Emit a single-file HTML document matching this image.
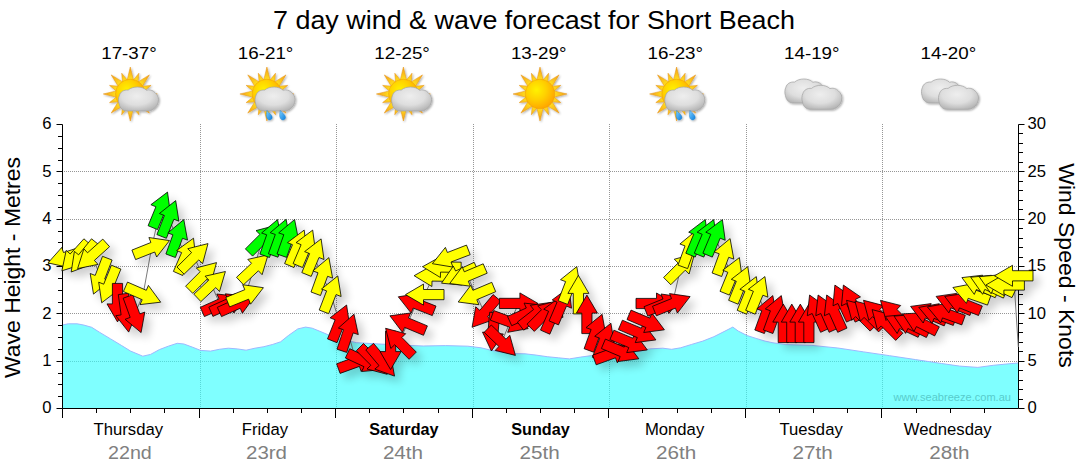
<!DOCTYPE html><html><head><meta charset="utf-8"><title>7 day wind &amp; wave forecast</title>
<style>html,body{margin:0;padding:0;background:#fff}svg{display:block}text{font-family:"Liberation Sans",sans-serif}</style></head><body>
<svg width="1080" height="475" viewBox="0 0 1080 475">
<defs>
<filter id="sh" x="-5%" y="-20%" width="110%" height="150%"><feGaussianBlur in="SourceAlpha" stdDeviation="4.5"/><feOffset dx="6" dy="6" result="b"/><feComponentTransfer><feFuncA type="linear" slope="0.19"/></feComponentTransfer><feMerge><feMergeNode/><feMergeNode in="SourceGraphic"/></feMerge></filter>
<filter id="ish" x="-20%" y="-20%" width="150%" height="150%"><feGaussianBlur in="SourceAlpha" stdDeviation="0.9"/><feOffset dx="0.6" dy="0.8"/><feComponentTransfer><feFuncA type="linear" slope="0.35"/></feComponentTransfer><feMerge><feMergeNode/><feMergeNode in="SourceGraphic"/></feMerge></filter>
<radialGradient id="sunG" cx="0.38" cy="0.36" r="0.75"><stop offset="0" stop-color="#fff200"/><stop offset="0.45" stop-color="#ffd000"/><stop offset="1" stop-color="#ff9a00"/></radialGradient>
<radialGradient id="rayG" gradientUnits="userSpaceOnUse" cx="0" cy="0" r="27"><stop offset="0.55" stop-color="#ffdc1e"/><stop offset="1" stop-color="#f39c1a"/></radialGradient>
<radialGradient id="cloudG" cx="0.46" cy="0.38" r="0.68"><stop offset="0" stop-color="#eeeeee"/><stop offset="0.55" stop-color="#dedede"/><stop offset="1" stop-color="#b2b2b2"/></radialGradient>
<linearGradient id="dropG" x1="0" y1="0" x2="1" y2="1"><stop offset="0" stop-color="#7fd0ff"/><stop offset="1" stop-color="#0a7fe0"/></linearGradient>

<g id="sun"><path d="M-3.34,-13.08 L0.00,-27.00 L3.34,-13.08Z M2.45,-13.28 L8.61,-20.79 L7.65,-11.12Z M6.89,-11.61 L19.09,-19.09 L11.61,-6.89Z M11.12,-7.65 L20.79,-8.61 L13.28,-2.45Z M13.08,-3.34 L27.00,0.00 L13.08,3.34Z M13.28,2.45 L20.79,8.61 L11.12,7.65Z M11.61,6.89 L19.09,19.09 L6.89,11.61Z M7.65,11.12 L8.61,20.79 L2.45,13.28Z M3.34,13.08 L0.00,27.00 L-3.34,13.08Z M-2.45,13.28 L-8.61,20.79 L-7.65,11.12Z M-6.89,11.61 L-19.09,19.09 L-11.61,6.89Z M-11.12,7.65 L-20.79,8.61 L-13.28,2.45Z M-13.08,3.34 L-27.00,0.00 L-13.08,-3.34Z M-13.28,-2.45 L-20.79,-8.61 L-11.12,-7.65Z M-11.61,-6.89 L-19.09,-19.09 L-6.89,-11.61Z M-7.65,-11.12 L-8.61,-20.79 L-2.45,-13.28Z" fill="url(#rayG)" stroke="#e69512" stroke-width="0.5" stroke-linejoin="round"/><circle r="14.8" fill="url(#sunG)" stroke="#f0a010" stroke-width="0.6"/></g>
<path id="cloud" d="M8,24 C4.5,24 1.2,21 0.6,16.8 C-0.4,14 -0.2,10.5 1,8.2 C1.8,5 5.2,2.6 9.6,3.1 C12,1 15.5,0 19,0 C22.6,0 26,1.2 28,3.3 C30.6,2.3 34.4,3 36.5,5.6 C38.8,7.6 40,10 40,12.6 C40,17 37.6,20.4 34.6,22.3 C33,23.5 31.5,24 30,24 Z" fill="url(#cloudG)" stroke="#a4a4a4" stroke-width="0.7"/>
<path id="drop" d="M0,0 C1.2,2.2 5.4,4.2 5.2,7.2 C5,9.6 1.6,10.4 0.2,8.2 C-1.2,6 -0.6,2.6 0,0Z" fill="url(#dropG)" stroke="#1a78c8" stroke-width="0.4"/>
</defs>
<rect width="1080" height="475" fill="#fff"/>
<text x="273.0" y="28.7" font-size="26.4" textLength="522" lengthAdjust="spacingAndGlyphs" fill="#000">7 day wind &amp; wave forecast for Short Beach</text>
<text x="129.0" y="58.7" font-size="15.6" text-anchor="middle" textLength="55.6" lengthAdjust="spacingAndGlyphs" fill="#000">17-37°</text>
<text x="265.6" y="58.7" font-size="15.6" text-anchor="middle" textLength="55.6" lengthAdjust="spacingAndGlyphs" fill="#000">16-21°</text>
<text x="402.1" y="58.7" font-size="15.6" text-anchor="middle" textLength="55.6" lengthAdjust="spacingAndGlyphs" fill="#000">12-25°</text>
<text x="538.7" y="58.7" font-size="15.6" text-anchor="middle" textLength="55.6" lengthAdjust="spacingAndGlyphs" fill="#000">13-29°</text>
<text x="675.3" y="58.7" font-size="15.6" text-anchor="middle" textLength="55.6" lengthAdjust="spacingAndGlyphs" fill="#000">16-23°</text>
<text x="811.8" y="58.7" font-size="15.6" text-anchor="middle" textLength="55.6" lengthAdjust="spacingAndGlyphs" fill="#000">14-19°</text>
<text x="948.4" y="58.7" font-size="15.6" text-anchor="middle" textLength="55.6" lengthAdjust="spacingAndGlyphs" fill="#000">14-20°</text>
<g filter="url(#ish)"><use href="#sun" x="130.3" y="94"/><use href="#cloud" x="118.5" y="87"/></g>
<g filter="url(#ish)"><use href="#sun" x="266.9" y="94"/><use href="#cloud" x="255.1" y="87"/><use href="#drop" x="267.0" y="110.4"/><use href="#drop" x="280.3" y="110.4"/></g>
<g filter="url(#ish)"><use href="#sun" x="403.4" y="94"/><use href="#cloud" x="391.6" y="87"/></g>
<g filter="url(#ish)"><use href="#sun" x="540.0" y="94"/></g>
<g filter="url(#ish)"><use href="#sun" x="676.6" y="94"/><use href="#cloud" x="664.8" y="87"/><use href="#drop" x="676.7" y="110.4"/><use href="#drop" x="690.0" y="110.4"/></g>
<g filter="url(#ish)"><use href="#cloud" x="784.9" y="79"/><use href="#cloud" x="801.9" y="85.3"/></g>
<g filter="url(#ish)"><use href="#cloud" x="921.5" y="79"/><use href="#cloud" x="938.5" y="85.3"/></g>
<path d="M64.0,361.5 H1018.5 M64.0,313.5 H1018.5 M64.0,266.5 H1018.5 M64.0,219.5 H1018.5 M64.0,171.5 H1018.5 M200.5,124.0 V408.5 M336.5,124.0 V408.5 M473.5,124.0 V408.5 M609.5,124.0 V408.5 M746.5,124.0 V408.5 M882.5,124.0 V408.5" fill="none" stroke="#969696" stroke-width="1" stroke-dasharray="1,1"/>
<polygon points="62.0,325.1 68.3,323.8 77.2,323.8 83.9,325.1 91.7,327.3 99.4,332.2 110.6,338.9 121.7,345.6 130.6,351.1 142.8,356.2 150.6,354.4 159.4,349.6 168.3,346.2 177.2,343.3 183.9,344.0 192.8,347.3 200.6,350.4 210.6,351.1 219.4,349.3 228.3,348.2 237.2,348.9 246.1,350.2 255.0,348.2 263.9,346.7 272.8,344.4 280.6,341.8 288.3,335.6 297.8,328.9 305.6,327.1 312.2,328.2 321.1,331.8 330.0,335.6 338.9,338.9 356.7,342.7 378.9,344.0 401.1,345.1 423.3,346.0 445.6,345.6 467.8,346.2 481.1,347.8 490.0,350.0 501.1,352.2 512.2,353.6 525.0,353.8 536.1,355.1 547.2,356.7 558.3,357.8 569.4,358.9 580.6,357.1 591.7,355.6 616.0,353.2 640.6,351.1 649.4,348.9 662.8,348.2 671.7,349.3 680.6,347.8 691.7,344.4 702.8,341.1 713.9,336.7 725.0,331.1 732.8,327.1 738.3,331.1 747.2,335.6 756.1,338.4 765.0,341.1 773.0,342.8 785.9,344.6 811.9,345.4 837.8,348.0 863.7,351.9 889.6,355.7 915.6,359.6 941.5,363.5 959.6,366.1 977.8,367.4 993.3,365.3 1008.9,363.8 1018.7,363.0 1018.5,408.5 62.5,408.5" fill="#35ffff" fill-opacity="0.63"/>
<polyline points="62.0,325.1 68.3,323.8 77.2,323.8 83.9,325.1 91.7,327.3 99.4,332.2 110.6,338.9 121.7,345.6 130.6,351.1 142.8,356.2 150.6,354.4 159.4,349.6 168.3,346.2 177.2,343.3 183.9,344.0 192.8,347.3 200.6,350.4 210.6,351.1 219.4,349.3 228.3,348.2 237.2,348.9 246.1,350.2 255.0,348.2 263.9,346.7 272.8,344.4 280.6,341.8 288.3,335.6 297.8,328.9 305.6,327.1 312.2,328.2 321.1,331.8 330.0,335.6 338.9,338.9 356.7,342.7 378.9,344.0 401.1,345.1 423.3,346.0 445.6,345.6 467.8,346.2 481.1,347.8 490.0,350.0 501.1,352.2 512.2,353.6 525.0,353.8 536.1,355.1 547.2,356.7 558.3,357.8 569.4,358.9 580.6,357.1 591.7,355.6 616.0,353.2 640.6,351.1 649.4,348.9 662.8,348.2 671.7,349.3 680.6,347.8 691.7,344.4 702.8,341.1 713.9,336.7 725.0,331.1 732.8,327.1 738.3,331.1 747.2,335.6 756.1,338.4 765.0,341.1 773.0,342.8 785.9,344.6 811.9,345.4 837.8,348.0 863.7,351.9 889.6,355.7 915.6,359.6 941.5,363.5 959.6,366.1 977.8,367.4 993.3,365.3 1008.9,363.8 1018.7,363.0" fill="none" stroke="#9db8ff" stroke-width="1"/>
<path d="M62.5,124.5 V408.5 H1018.5 V124.5 M62.5,408.50 h-6.0 M62.5,396.50 h-4.5 M62.5,384.50 h-4.5 M62.5,373.50 h-4.5 M62.5,361.50 h-6.0 M62.5,349.50 h-4.5 M62.5,337.50 h-4.5 M62.5,325.50 h-4.5 M62.5,313.50 h-6.0 M62.5,302.50 h-4.5 M62.5,290.50 h-4.5 M62.5,278.50 h-4.5 M62.5,266.50 h-6.0 M62.5,254.50 h-4.5 M62.5,242.50 h-4.5 M62.5,231.50 h-4.5 M62.5,219.50 h-6.0 M62.5,207.50 h-4.5 M62.5,195.50 h-4.5 M62.5,183.50 h-4.5 M62.5,171.50 h-6.0 M62.5,160.50 h-4.5 M62.5,148.50 h-4.5 M62.5,136.50 h-4.5 M62.5,124.50 h-6.0 M1018.5,408.50 h6.0 M1018.5,399.50 h4.5 M1018.5,389.50 h4.5 M1018.5,380.50 h4.5 M1018.5,370.50 h4.5 M1018.5,361.50 h6.0 M1018.5,351.50 h4.5 M1018.5,342.50 h4.5 M1018.5,332.50 h4.5 M1018.5,323.50 h4.5 M1018.5,313.50 h6.0 M1018.5,304.50 h4.5 M1018.5,294.50 h4.5 M1018.5,285.50 h4.5 M1018.5,275.50 h4.5 M1018.5,266.50 h6.0 M1018.5,257.50 h4.5 M1018.5,247.50 h4.5 M1018.5,238.50 h4.5 M1018.5,228.50 h4.5 M1018.5,219.50 h6.0 M1018.5,209.50 h4.5 M1018.5,200.50 h4.5 M1018.5,190.50 h4.5 M1018.5,181.50 h4.5 M1018.5,171.50 h6.0 M1018.5,162.50 h4.5 M1018.5,152.50 h4.5 M1018.5,143.50 h4.5 M1018.5,133.50 h4.5 M1018.5,124.50 h6.0 M62.50,408.5 v9.5 M96.50,408.5 v4.5 M130.50,408.5 v4.5 M164.50,408.5 v4.5 M199.50,408.5 v9.5 M233.50,408.5 v4.5 M267.50,408.5 v4.5 M301.50,408.5 v4.5 M335.50,408.5 v9.5 M369.50,408.5 v4.5 M403.50,408.5 v4.5 M438.50,408.5 v4.5 M472.50,408.5 v9.5 M506.50,408.5 v4.5 M540.50,408.5 v4.5 M574.50,408.5 v4.5 M608.50,408.5 v9.5 M642.50,408.5 v4.5 M677.50,408.5 v4.5 M711.50,408.5 v4.5 M745.50,408.5 v9.5 M779.50,408.5 v4.5 M813.50,408.5 v4.5 M847.50,408.5 v4.5 M881.50,408.5 v9.5 M916.50,408.5 v4.5 M950.50,408.5 v4.5 M984.50,408.5 v4.5" fill="none" stroke="#000" stroke-width="1"/>
<text x="51.5" y="413.2" font-size="16.67" text-anchor="end" fill="#000">0</text>
<text x="51.5" y="365.9" font-size="16.67" text-anchor="end" fill="#000">1</text>
<text x="51.5" y="318.5" font-size="16.67" text-anchor="end" fill="#000">2</text>
<text x="51.5" y="271.2" font-size="16.67" text-anchor="end" fill="#000">3</text>
<text x="51.5" y="223.9" font-size="16.67" text-anchor="end" fill="#000">4</text>
<text x="51.5" y="176.5" font-size="16.67" text-anchor="end" fill="#000">5</text>
<text x="51.5" y="129.2" font-size="16.67" text-anchor="end" fill="#000">6</text>
<text x="1027.6" y="413.2" font-size="16.67" fill="#000">0</text>
<text x="1027.6" y="365.9" font-size="16.67" fill="#000">5</text>
<text x="1027.6" y="318.5" font-size="16.67" fill="#000">10</text>
<text x="1027.6" y="271.2" font-size="16.67" fill="#000">15</text>
<text x="1027.6" y="223.9" font-size="16.67" fill="#000">20</text>
<text x="1027.6" y="176.5" font-size="16.67" fill="#000">25</text>
<text x="1027.6" y="129.2" font-size="16.67" fill="#000">30</text>
<text transform="translate(19.8,378) rotate(-90)" font-size="22.5" textLength="221" lengthAdjust="spacingAndGlyphs" fill="#000">Wave Height - Metres</text>
<text transform="translate(1059.2,163.2) rotate(90)" font-size="22.5" textLength="204.6" lengthAdjust="spacingAndGlyphs" fill="#000">Wind Speed - Knots</text>
<text x="128.3" y="435" font-size="16.67" text-anchor="middle" fill="#000">Thursday</text>
<text x="129.9" y="458.7" font-size="18" text-anchor="middle" textLength="43.8" lengthAdjust="spacingAndGlyphs" fill="#808080">22nd</text>
<text x="264.9" y="435" font-size="16.67" text-anchor="middle" fill="#000">Friday</text>
<text x="266.5" y="458.7" font-size="18" text-anchor="middle" textLength="41.0" lengthAdjust="spacingAndGlyphs" fill="#808080">23rd</text>
<text x="403.9" y="435" font-size="16.2" text-anchor="middle" font-weight="bold" fill="#000">Saturday</text>
<text x="403.0" y="458.7" font-size="18" text-anchor="middle" textLength="40.2" lengthAdjust="spacingAndGlyphs" fill="#808080">24th</text>
<text x="540.5" y="435" font-size="16.2" text-anchor="middle" font-weight="bold" fill="#000">Sunday</text>
<text x="539.6" y="458.7" font-size="18" text-anchor="middle" textLength="40.2" lengthAdjust="spacingAndGlyphs" fill="#808080">25th</text>
<text x="674.6" y="435" font-size="16.67" text-anchor="middle" fill="#000">Monday</text>
<text x="676.2" y="458.7" font-size="18" text-anchor="middle" textLength="40.2" lengthAdjust="spacingAndGlyphs" fill="#808080">26th</text>
<text x="811.1" y="435" font-size="16.67" text-anchor="middle" fill="#000">Tuesday</text>
<text x="812.7" y="458.7" font-size="18" text-anchor="middle" textLength="40.2" lengthAdjust="spacingAndGlyphs" fill="#808080">27th</text>
<text x="947.7" y="435" font-size="16.67" text-anchor="middle" fill="#000">Wednesday</text>
<text x="949.3" y="458.7" font-size="18" text-anchor="middle" textLength="40.2" lengthAdjust="spacingAndGlyphs" fill="#808080">28th</text>
<text x="893.5" y="400.6" font-size="11.5" textLength="117.5" lengthAdjust="spacingAndGlyphs" fill="#58cccc">www.seabreeze.com.au</text>
<polyline points="66.3,257.0 74.8,256.5 83.3,257.0 91.9,255.8 100.4,276.1 108.9,285.0 117.5,302.7 126.0,313.0 134.6,314.5 143.1,294.5 151.6,247.8 160.2,209.9 168.7,218.5 177.2,237.7 185.8,255.8 194.3,257.1 202.8,276.2 211.4,284.7 219.9,304.1 228.4,303.9 237.0,304.1 245.5,294.9 254.1,267.9 262.6,238.9 271.1,237.7 279.7,237.4 288.2,237.6 296.7,247.8 305.3,247.8 313.8,256.7 322.3,275.7 330.9,293.9 339.4,322.9 347.9,332.5 356.5,362.0 365.0,361.5 373.6,360.7 382.1,361.4 390.6,350.3 399.2,342.0 407.7,323.2 416.2,303.8 424.8,294.6 433.3,276.0 441.8,267.0 450.4,256.8 458.9,275.1 467.4,276.0 476.0,294.5 484.5,312.6 493.1,331.8 501.6,342.0 510.1,322.0 518.7,303.4 527.2,313.2 535.7,314.3 544.3,314.2 552.8,314.5 561.3,305.2 569.9,284.6 578.4,294.6 586.9,314.4 595.5,332.4 604.0,341.2 612.6,353.4 621.1,351.3 629.6,342.4 638.2,332.4 646.7,322.3 655.2,303.5 663.8,304.2 672.3,303.8 680.8,267.5 689.4,248.8 697.9,237.4 706.4,237.4 715.0,237.4 723.5,256.7 732.1,275.4 740.6,284.4 749.1,294.4 757.7,294.4 766.2,313.7 774.7,313.7 783.3,323.4 791.8,323.4 800.3,323.4 808.9,323.4 817.4,312.6 825.9,312.6 834.5,312.6 843.0,302.5 851.6,302.5 860.1,313.9 868.6,314.7 877.2,313.9 885.7,323.2 894.2,313.9 902.8,324.5 911.3,324.5 919.8,322.6 928.4,313.8 936.9,314.0 945.4,313.5 954.0,303.6 962.5,303.6 971.1,293.9 979.6,285.3 988.1,285.3 996.7,284.8 1005.2,285.0 1013.7,275.8 1018.3,347.0" fill="none" stroke="#7a7a7a" stroke-width="1"/>
<g filter="url(#sh)" stroke="#000" stroke-width="0.8" stroke-linejoin="miter">
<path d="M48.0,262.9 L61.8,247.4 L63.5,252.5 L83.0,246.2 L86.2,255.9 L66.7,262.2 L68.3,267.4Z" fill="#ffff00"/>
<path d="M61.9,270.8 L66.2,250.4 L70.2,254.0 L83.9,238.8 L91.5,245.6 L77.8,260.8 L81.8,264.5Z" fill="#ffff00"/>
<path d="M71.2,272.0 L74.4,251.4 L78.6,254.8 L91.5,238.8 L99.4,245.2 L86.5,261.2 L90.7,264.6Z" fill="#ffff00"/>
<path d="M77.6,268.6 L83.9,248.8 L87.5,252.8 L102.8,239.1 L109.6,246.7 L94.4,260.4 L98.0,264.4Z" fill="#ffff00"/>
<path d="M93.5,294.1 L90.2,273.5 L95.2,275.4 L102.5,256.3 L112.1,260.0 L104.7,279.1 L109.8,281.0Z" fill="#ffff00"/>
<path d="M101.7,302.8 L98.7,282.2 L103.7,284.2 L111.4,265.2 L120.9,269.1 L113.2,288.1 L118.2,290.1Z" fill="#ffff00"/>
<path d="M117.5,321.9 L107.0,303.9 L112.4,303.9 L112.4,283.4 L122.6,283.4 L122.6,303.9 L128.0,303.9Z" fill="#ff0000"/>
<path d="M128.7,332.1 L115.8,315.7 L121.1,314.9 L118.3,294.6 L128.4,293.2 L131.2,313.5 L136.6,312.8Z" fill="#ff0000"/>
<path d="M141.1,332.6 L125.1,319.3 L130.2,317.4 L123.2,298.2 L132.8,294.7 L139.8,313.9 L144.8,312.1Z" fill="#ff0000"/>
<path d="M160.7,302.2 L140.0,304.6 L142.2,299.7 L123.4,291.5 L127.5,282.1 L146.3,290.3 L148.4,285.4Z" fill="#ffff00"/>
<path d="M169.5,240.6 L156.7,257.0 L154.7,252.0 L135.6,259.6 L131.9,250.1 L150.9,242.5 L148.9,237.5Z" fill="#ffff00"/>
<path d="M167.5,192.1 L170.3,212.8 L165.4,210.7 L157.5,229.6 L148.1,225.7 L155.9,206.8 L150.9,204.7Z" fill="#00ff00"/>
<path d="M175.7,200.6 L178.9,221.2 L173.9,219.2 L166.4,238.3 L156.9,234.6 L164.4,215.5 L159.4,213.5Z" fill="#00ff00"/>
<path d="M183.8,219.6 L187.5,240.1 L182.5,238.3 L175.4,257.5 L165.9,254.0 L172.9,234.8 L167.8,232.9Z" fill="#00ff00"/>
<path d="M193.5,238.2 L195.9,258.9 L190.9,256.7 L182.7,275.5 L173.4,271.4 L181.6,252.6 L176.6,250.5Z" fill="#ffff00"/>
<path d="M208.0,243.6 L202.6,263.7 L198.8,259.9 L184.1,274.2 L177.0,267.0 L191.6,252.6 L187.8,248.7Z" fill="#ffff00"/>
<path d="M216.5,262.6 L211.1,282.7 L207.3,278.9 L192.8,293.4 L185.6,286.2 L200.1,271.7 L196.3,267.9Z" fill="#ffff00"/>
<path d="M225.4,271.5 L219.5,291.5 L215.8,287.6 L200.9,301.6 L193.9,294.2 L208.8,280.1 L205.1,276.2Z" fill="#ffff00"/>
<path d="M237.5,296.3 L225.3,313.2 L223.1,308.3 L204.4,316.6 L200.3,307.3 L219.0,298.9 L216.8,294.0Z" fill="#ff0000"/>
<path d="M246.0,296.1 L233.9,313.0 L231.7,308.1 L212.9,316.4 L208.8,307.1 L227.5,298.7 L225.3,293.8Z" fill="#ff0000"/>
<path d="M254.6,296.3 L242.4,313.2 L240.2,308.3 L221.5,316.6 L217.3,307.3 L236.0,298.9 L233.9,294.0Z" fill="#ff0000"/>
<path d="M263.4,287.7 L250.6,304.2 L248.6,299.2 L229.6,306.9 L225.8,297.4 L244.8,289.7 L242.7,284.7Z" fill="#ffff00"/>
<path d="M268.1,254.8 L262.1,274.7 L258.4,270.8 L243.5,284.8 L236.5,277.3 L251.5,263.3 L247.8,259.4Z" fill="#ffff00"/>
<path d="M276.2,225.3 L270.9,245.4 L267.1,241.6 L252.6,256.1 L245.4,248.9 L259.9,234.4 L256.0,230.6Z" fill="#00ff00"/>
<path d="M277.6,219.6 L281.4,240.0 L276.3,238.2 L269.5,257.5 L259.9,254.1 L266.7,234.8 L261.6,233.0Z" fill="#00ff00"/>
<path d="M286.1,219.3 L290.0,239.7 L284.9,237.9 L278.0,257.2 L268.4,253.8 L275.3,234.5 L270.2,232.7Z" fill="#00ff00"/>
<path d="M294.6,219.5 L298.5,239.9 L293.4,238.1 L286.6,257.4 L277.0,254.0 L283.8,234.7 L278.7,232.9Z" fill="#00ff00"/>
<path d="M304.2,230.1 L306.9,250.7 L301.9,248.6 L294.0,267.5 L284.6,263.6 L292.5,244.7 L287.5,242.6Z" fill="#ffff00"/>
<path d="M312.7,230.1 L315.4,250.7 L310.5,248.6 L302.5,267.5 L293.1,263.6 L301.1,244.7 L296.1,242.6Z" fill="#ffff00"/>
<path d="M321.1,238.9 L324.0,259.5 L319.0,257.5 L311.2,276.4 L301.8,272.6 L309.6,253.6 L304.6,251.6Z" fill="#ffff00"/>
<path d="M328.9,257.6 L332.6,278.1 L327.6,276.3 L320.5,295.5 L311.0,292.0 L318.0,272.8 L312.9,270.9Z" fill="#ffff00"/>
<path d="M337.8,275.9 L341.1,296.5 L336.1,294.6 L328.7,313.7 L319.2,310.0 L326.6,290.9 L321.5,289.0Z" fill="#ffff00"/>
<path d="M346.6,305.0 L349.6,325.6 L344.6,323.6 L337.0,342.7 L327.5,338.9 L335.1,319.8 L330.1,317.8Z" fill="#ff0000"/>
<path d="M354.0,314.2 L358.3,334.6 L353.2,332.9 L346.7,352.4 L337.0,349.2 L343.5,329.7 L338.4,328.0Z" fill="#ff0000"/>
<path d="M374.6,355.4 L361.2,371.4 L359.4,366.4 L340.1,373.4 L336.6,363.8 L355.9,356.8 L354.1,351.7Z" fill="#ff0000"/>
<path d="M382.5,369.6 L361.7,371.5 L364.0,366.7 L345.4,358.0 L349.7,348.7 L368.3,357.4 L370.6,352.5Z" fill="#ff0000"/>
<path d="M387.2,374.3 L367.0,369.0 L370.8,365.2 L356.3,350.7 L363.5,343.5 L378.0,358.0 L381.9,354.2Z" fill="#ff0000"/>
<path d="M394.5,376.1 L374.8,369.1 L379.0,365.6 L365.8,349.9 L373.6,343.4 L386.8,359.1 L390.9,355.6Z" fill="#ff0000"/>
<path d="M390.6,369.6 L380.1,351.6 L385.5,351.6 L385.5,331.1 L395.7,331.1 L395.7,351.6 L401.1,351.6Z" fill="#ff0000"/>
<path d="M385.6,328.3 L405.7,333.7 L401.9,337.5 L416.3,352.1 L409.1,359.3 L394.7,344.7 L390.8,348.5Z" fill="#ff0000"/>
<path d="M389.9,315.8 L410.6,313.0 L408.5,318.0 L427.4,325.9 L423.5,335.3 L404.6,327.4 L402.5,332.4Z" fill="#ff0000"/>
<path d="M398.3,296.8 L418.9,293.6 L416.9,298.6 L436.0,306.1 L432.3,315.6 L413.2,308.1 L411.2,313.1Z" fill="#ff0000"/>
<path d="M405.5,294.6 L423.5,284.1 L423.5,289.5 L444.0,289.5 L444.0,299.7 L423.5,299.7 L423.5,305.1Z" fill="#ffff00"/>
<path d="M414.1,275.7 L432.2,265.5 L432.1,270.9 L452.6,271.2 L452.5,281.4 L432.0,281.1 L431.9,286.5Z" fill="#ffff00"/>
<path d="M422.6,266.7 L440.8,256.5 L440.7,261.9 L461.2,262.2 L461.0,272.4 L440.5,272.1 L440.4,277.5Z" fill="#ffff00"/>
<path d="M432.4,263.7 L445.4,247.4 L447.4,252.5 L466.5,245.1 L470.2,254.7 L451.0,262.0 L453.0,267.1Z" fill="#ffff00"/>
<path d="M441.5,283.2 L453.3,266.1 L455.6,271.0 L474.2,262.3 L478.5,271.6 L459.9,280.3 L462.2,285.1Z" fill="#ffff00"/>
<path d="M449.7,283.5 L462.2,266.8 L464.3,271.8 L483.2,263.8 L487.2,273.2 L468.3,281.2 L470.4,286.2Z" fill="#ffff00"/>
<path d="M458.2,302.0 L470.8,285.3 L472.9,290.3 L491.8,282.3 L495.7,291.7 L476.8,299.7 L478.9,304.7Z" fill="#ffff00"/>
<path d="M472.1,327.3 L475.7,306.8 L479.8,310.3 L493.1,294.6 L500.9,301.2 L487.6,316.9 L491.7,320.3Z" fill="#ff0000"/>
<path d="M491.4,351.0 L482.5,332.1 L487.9,332.6 L489.7,312.2 L499.8,313.1 L498.0,333.5 L503.4,334.0Z" fill="#ff0000"/>
<path d="M515.4,355.4 L495.2,350.4 L498.9,346.5 L484.2,332.3 L491.3,325.0 L506.0,339.2 L509.8,335.3Z" fill="#ff0000"/>
<path d="M528.2,328.6 L507.7,332.3 L509.6,327.2 L490.3,320.2 L493.8,310.6 L513.0,317.6 L514.9,312.6Z" fill="#ff0000"/>
<path d="M537.9,303.4 L519.9,313.9 L519.9,308.5 L499.4,308.5 L499.4,298.3 L519.9,298.3 L519.9,292.9Z" fill="#ff0000"/>
<path d="M544.8,305.4 L532.6,322.3 L530.4,317.4 L511.7,325.7 L507.5,316.4 L526.3,308.0 L524.1,303.1Z" fill="#ff0000"/>
<path d="M550.9,302.4 L543.2,321.8 L539.9,317.5 L523.7,330.2 L517.4,322.1 L533.6,309.5 L530.3,305.3Z" fill="#ff0000"/>
<path d="M557.9,300.6 L552.6,320.7 L548.8,316.9 L534.3,331.4 L527.0,324.2 L541.5,309.7 L537.7,305.9Z" fill="#ff0000"/>
<path d="M560.4,296.8 L562.9,317.5 L558.0,315.4 L549.8,334.2 L540.5,330.1 L548.6,311.3 L543.7,309.2Z" fill="#ff0000"/>
<path d="M568.9,287.5 L571.5,308.2 L566.5,306.0 L558.5,324.9 L549.1,320.9 L557.1,302.1 L552.2,299.9Z" fill="#ff0000"/>
<path d="M576.8,266.6 L580.1,287.2 L575.1,285.3 L567.7,304.4 L558.2,300.7 L565.6,281.6 L560.5,279.7Z" fill="#ffff00"/>
<path d="M578.4,275.4 L588.9,293.4 L583.5,293.4 L583.5,313.9 L573.3,313.9 L573.3,293.4 L567.9,293.4Z" fill="#ffff00"/>
<path d="M586.9,295.1 L597.4,313.1 L592.0,313.1 L592.0,333.6 L581.8,333.6 L581.8,313.1 L576.4,313.1Z" fill="#ff0000"/>
<path d="M602.1,314.3 L605.8,334.8 L600.7,333.0 L593.7,352.2 L584.1,348.7 L591.1,329.5 L586.0,327.6Z" fill="#ff0000"/>
<path d="M610.9,323.2 L614.3,343.8 L609.2,341.9 L601.9,361.0 L592.4,357.3 L599.7,338.2 L594.7,336.3Z" fill="#ff0000"/>
<path d="M630.6,346.8 L617.3,362.8 L615.5,357.8 L596.2,364.8 L592.7,355.2 L612.0,348.2 L610.1,343.1Z" fill="#ff0000"/>
<path d="M638.8,358.8 L618.1,361.5 L620.2,356.5 L601.4,348.5 L605.4,339.1 L624.2,347.1 L626.3,342.1Z" fill="#ff0000"/>
<path d="M647.3,349.9 L626.7,352.6 L628.8,347.6 L609.9,339.6 L613.9,330.2 L632.8,338.2 L634.9,333.2Z" fill="#ff0000"/>
<path d="M655.9,339.9 L635.2,342.6 L637.3,337.6 L618.4,329.6 L622.4,320.2 L641.3,328.2 L643.4,323.2Z" fill="#ff0000"/>
<path d="M664.4,329.8 L643.7,332.5 L645.9,327.5 L627.0,319.5 L631.0,310.1 L649.8,318.1 L651.9,313.1Z" fill="#ff0000"/>
<path d="M674.5,303.5 L656.5,314.0 L656.5,308.6 L636.0,308.6 L636.0,298.4 L656.5,298.4 L656.5,293.0Z" fill="#ff0000"/>
<path d="M681.6,297.0 L668.9,313.5 L666.8,308.5 L647.8,316.1 L644.0,306.7 L663.0,299.0 L661.0,294.0Z" fill="#ff0000"/>
<path d="M690.1,296.6 L677.4,313.1 L675.4,308.1 L656.4,315.8 L652.5,306.3 L671.5,298.6 L669.5,293.6Z" fill="#ff0000"/>
<path d="M694.5,253.9 L689.1,274.0 L685.3,270.2 L670.8,284.7 L663.6,277.5 L678.1,263.0 L674.3,259.2Z" fill="#ffff00"/>
<path d="M696.0,230.7 L699.7,251.2 L694.6,249.4 L687.6,268.6 L678.0,265.1 L685.0,245.9 L679.9,244.0Z" fill="#ffff00"/>
<path d="M705.3,219.6 L708.1,240.3 L703.1,238.2 L695.2,257.1 L685.8,253.2 L693.7,234.3 L688.7,232.2Z" fill="#00ff00"/>
<path d="M713.8,219.6 L716.6,240.3 L711.6,238.2 L703.8,257.1 L694.3,253.2 L702.2,234.3 L697.2,232.2Z" fill="#00ff00"/>
<path d="M722.4,219.6 L725.2,240.3 L720.2,238.2 L712.3,257.1 L702.9,253.2 L710.8,234.3 L705.8,232.2Z" fill="#00ff00"/>
<path d="M730.1,238.6 L733.8,259.1 L728.7,257.3 L721.7,276.5 L712.1,273.0 L719.2,253.8 L714.1,251.9Z" fill="#ffff00"/>
<path d="M739.4,257.6 L742.2,278.2 L737.2,276.2 L729.4,295.1 L720.0,291.3 L727.8,272.3 L722.8,270.2Z" fill="#ffff00"/>
<path d="M747.8,266.6 L750.8,287.2 L745.8,285.2 L738.1,304.2 L728.6,300.3 L736.3,281.3 L731.3,279.3Z" fill="#ffff00"/>
<path d="M756.3,276.6 L759.3,297.2 L754.3,295.2 L746.6,314.2 L737.2,310.3 L744.9,291.3 L739.9,289.3Z" fill="#ffff00"/>
<path d="M764.9,276.6 L767.9,297.2 L762.9,295.2 L755.2,314.2 L745.7,310.3 L753.4,291.3 L748.4,289.3Z" fill="#ffff00"/>
<path d="M772.8,295.6 L776.5,316.1 L771.4,314.3 L764.4,333.5 L754.8,330.0 L761.8,310.8 L756.8,308.9Z" fill="#ff0000"/>
<path d="M781.3,295.6 L785.0,316.1 L780.0,314.3 L772.9,333.5 L763.4,330.0 L770.4,310.8 L765.3,308.9Z" fill="#ff0000"/>
<path d="M783.3,304.1 L793.8,322.1 L788.4,322.1 L788.4,342.6 L778.2,342.6 L778.2,322.1 L772.8,322.1Z" fill="#ff0000"/>
<path d="M791.8,304.1 L802.3,322.1 L796.9,322.1 L796.9,342.6 L786.7,342.6 L786.7,322.1 L781.3,322.1Z" fill="#ff0000"/>
<path d="M800.3,304.1 L810.8,322.1 L805.4,322.1 L805.4,342.6 L795.2,342.6 L795.2,322.1 L789.8,322.1Z" fill="#ff0000"/>
<path d="M808.9,304.1 L819.4,322.1 L814.0,322.1 L814.0,342.6 L803.8,342.6 L803.8,322.1 L798.4,322.1Z" fill="#ff0000"/>
<path d="M809.6,295.0 L826.5,307.2 L821.6,309.4 L829.9,328.1 L820.6,332.3 L812.2,313.5 L807.3,315.7Z" fill="#ff0000"/>
<path d="M818.1,295.0 L835.0,307.2 L830.1,309.4 L838.4,328.1 L829.1,332.3 L820.8,313.5 L815.8,315.7Z" fill="#ff0000"/>
<path d="M826.7,295.0 L843.6,307.2 L838.6,309.4 L847.0,328.1 L837.7,332.3 L829.3,313.5 L824.4,315.7Z" fill="#ff0000"/>
<path d="M834.9,285.1 L852.0,296.9 L847.1,299.2 L855.8,317.8 L846.5,322.1 L837.9,303.5 L833.0,305.8Z" fill="#ff0000"/>
<path d="M843.4,285.1 L860.5,296.9 L855.6,299.2 L864.3,317.8 L855.1,322.1 L846.4,303.5 L841.5,305.8Z" fill="#ff0000"/>
<path d="M846.5,300.3 L866.6,305.6 L862.8,309.4 L877.3,323.9 L870.1,331.1 L855.6,316.6 L851.8,320.4Z" fill="#ff0000"/>
<path d="M855.0,301.1 L875.2,306.4 L871.3,310.2 L885.8,324.7 L878.6,331.9 L864.1,317.4 L860.3,321.2Z" fill="#ff0000"/>
<path d="M863.5,300.3 L883.7,305.6 L879.9,309.4 L894.4,323.9 L887.2,331.1 L872.7,316.6 L868.9,320.4Z" fill="#ff0000"/>
<path d="M872.1,309.6 L892.2,314.9 L888.4,318.7 L902.9,333.2 L895.7,340.4 L881.2,325.9 L877.4,329.7Z" fill="#ff0000"/>
<path d="M880.5,300.4 L900.7,305.5 L896.9,309.4 L911.5,323.8 L904.4,331.0 L889.8,316.7 L886.0,320.5Z" fill="#ff0000"/>
<path d="M885.3,316.4 L906.1,314.5 L903.8,319.3 L922.4,328.0 L918.1,337.3 L899.5,328.6 L897.2,333.5Z" fill="#ff0000"/>
<path d="M894.0,316.1 L914.8,314.5 L912.4,319.4 L930.8,328.4 L926.4,337.5 L907.9,328.5 L905.6,333.4Z" fill="#ff0000"/>
<path d="M902.7,313.9 L923.5,312.7 L921.0,317.5 L939.3,326.8 L934.7,335.9 L916.4,326.6 L914.0,331.4Z" fill="#ff0000"/>
<path d="M910.6,306.4 L931.2,303.6 L929.2,308.6 L948.1,316.5 L944.2,325.9 L925.3,318.0 L923.2,323.0Z" fill="#ff0000"/>
<path d="M918.8,307.4 L939.3,303.7 L937.5,308.8 L956.7,315.8 L953.3,325.4 L934.0,318.4 L932.1,323.4Z" fill="#ff0000"/>
<path d="M927.4,306.9 L947.9,303.2 L946.0,308.3 L965.3,315.3 L961.8,324.9 L942.5,317.9 L940.7,322.9Z" fill="#ff0000"/>
<path d="M936.1,296.4 L956.7,293.4 L954.7,298.4 L973.7,306.0 L969.9,315.5 L950.9,307.9 L948.9,312.9Z" fill="#ff0000"/>
<path d="M944.7,296.4 L965.3,293.4 L963.3,298.4 L982.3,306.0 L978.5,315.5 L959.5,307.9 L957.4,312.9Z" fill="#ff0000"/>
<path d="M952.9,287.5 L973.4,283.6 L971.6,288.7 L990.9,295.5 L987.5,305.1 L968.2,298.3 L966.4,303.4Z" fill="#ffff00"/>
<path d="M961.9,277.6 L982.6,275.2 L980.5,280.1 L999.3,288.3 L995.2,297.7 L976.4,289.5 L974.3,294.4Z" fill="#ffff00"/>
<path d="M970.7,277.2 L991.4,275.3 L989.1,280.1 L1007.7,288.8 L1003.4,298.1 L984.8,289.4 L982.6,294.3Z" fill="#ffff00"/>
<path d="M979.2,276.7 L1000.0,274.8 L997.7,279.6 L1016.3,288.3 L1012.0,297.6 L993.4,288.9 L991.1,293.8Z" fill="#ffff00"/>
<path d="M985.9,285.0 L1003.9,274.5 L1003.9,279.9 L1024.4,279.9 L1024.4,290.1 L1003.9,290.1 L1003.9,295.5Z" fill="#ffff00"/>
<path d="M994.5,275.8 L1012.5,265.3 L1012.5,270.7 L1033.0,270.7 L1033.0,280.9 L1012.5,280.9 L1012.5,286.3Z" fill="#ffff00"/>
</g>
</svg></body></html>
